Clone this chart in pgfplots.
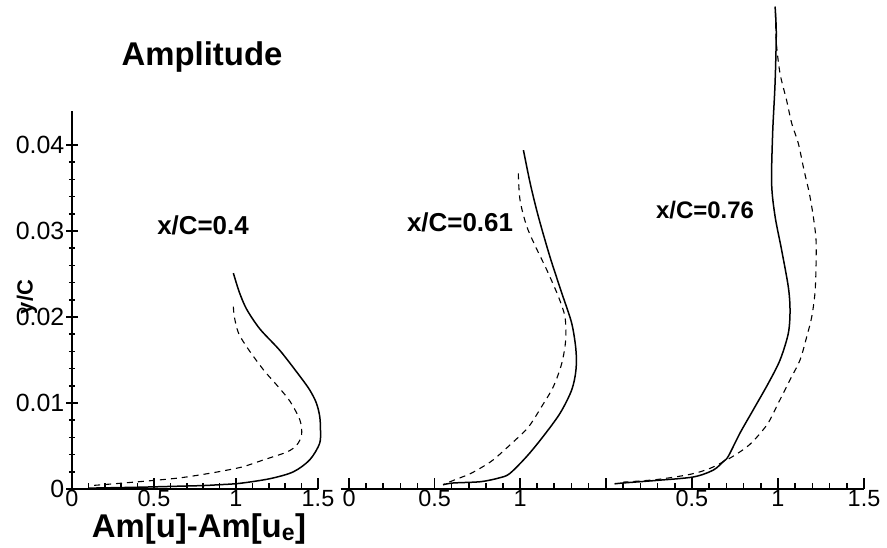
\documentclass[border=0pt]{standalone}
\usepackage{fontspec}
\setmainfont{Liberation Sans}
\usepackage{pgfplots}
\pgfplotsset{compat=1.18}
\begin{document}
\begin{tikzpicture}
\path[use as bounding box] (0,0) rectangle (887bp,548bp);
\pgfplotsset{
  panel/.style={
    scale only axis, clip=false,
    height=378.4bp, ymin=0, ymax=0.044,
    axis x line=bottom,
    tick align=inside,
    major tick length=11bp, minor tick length=6bp,
    every tick/.style={line width=1.6bp, black},
    xtick={0,0.5,1,1.5}, minor x tick num=4,
    xticklabel style={inner sep=1bp, font=\fontsize{23.5}{27}\selectfont},
    yticklabel style={inner sep=2bp, font=\fontsize{25}{29}\selectfont},
    scaled ticks=false,
    /pgf/number format/assume math mode=true,
  },
  thickaxis/.style={
    axis line style={-, line width=2.6bp, black},
    every outer x axis line/.append style={-, line width=2.6bp},
    every outer y axis line/.append style={-, line width=2.6bp},
  },
  solidc/.style={black, line width=1.5bp, smooth},
  dashc/.style={black, line width=1.1bp, dash pattern=on 6bp off 5bp, smooth},
}
% Panel 1
\begin{axis}[panel, at={(72bp,59bp)}, anchor=south west,
  width=246bp, xmin=0, xmax=1.5,
  axis y line=left, thickaxis,
  ytick={0,0.01,0.02,0.03,0.04}, minor y tick num=4,
  yticklabels={0,0.01,0.02,0.03,0.04},
  xticklabels={0,0.5,1,1.5}]
\addplot[solidc] coordinates {
(0.984,0.0251) (1.02,0.0229) (1.065,0.0209) (1.146,0.0186) (1.268,0.0161)
(1.39,0.0131) (1.45,0.0115) (1.49,0.0100) (1.51,0.0085) (1.515,0.0070)
(1.51,0.0053) (1.45,0.0034) (1.35,0.0020) (1.207,0.0012) (1.024,0.00066)
(0.9,0.0005) (0.8,0.0004) (0.6,0.0003) (0.39,0.0002) (0.1,0.0001)};
\addplot[dashc] coordinates {
(0.984,0.0212) (0.99,0.0200) (1.016,0.0181) (1.077,0.0162) (1.17,0.0138)
(1.248,0.0121) (1.329,0.0102) (1.39,0.0080) (1.40,0.0063) (1.37,0.0051)
(1.31,0.0043) (1.17,0.0034) (1.045,0.0026) (0.92,0.0021) (0.80,0.0017)
(0.66,0.0013) (0.50,0.0010) (0.29,0.00066) (0.12,0.0004)};
\end{axis}
% Panel 2
\begin{axis}[panel, at={(340.5bp,59bp)}, anchor=south west,
  width=265bp, xmin=-0.05, xmax=1.5,
  axis y line=none, thickaxis,
  xticklabels={0,0.5,1,}]
\addplot[solidc] coordinates {
(1.02,0.0394) (1.06,0.0355) (1.107,0.0317) (1.175,0.0270) (1.244,0.0228)
(1.302,0.0193) (1.327,0.0162) (1.327,0.0138) (1.302,0.0115) (1.234,0.0088)
(1.135,0.0061) (1.04,0.0038) (0.94,0.0018) (0.88,0.0013) (0.77,0.00085)
(0.61,0.0007) (0.55,0.0005)};
\addplot[dashc] coordinates {
(0.99,0.0367) (1.00,0.0336) (1.04,0.0305) (1.10,0.0278) (1.156,0.0255)
(1.224,0.0224) (1.263,0.0200) (1.267,0.0173) (1.244,0.0146) (1.195,0.0119)
(1.127,0.0096) (1.049,0.0072) (0.951,0.0053) (0.844,0.0034) (0.766,0.0024)
(0.70,0.0017) (0.61,0.0010) (0.55,0.0005)};
\end{axis}
% Panel 3
\begin{axis}[panel, at={(600.8bp,59bp)}, anchor=south west,
  width=263.2bp, xmin=-0.03, xmax=1.5,
  axis y line=none, thickaxis,
  xticklabels={,0.5,1,1.5}]
\addplot[solidc] coordinates {
(0.983,0.0561) (0.990,0.0530) (0.983,0.0472) (0.969,0.0414) (0.963,0.0355)
(0.983,0.0317) (1.021,0.0278) (1.06,0.0235) (1.07,0.0208) (1.06,0.0181)
(1.012,0.0150) (0.944,0.0123) (0.856,0.0092) (0.779,0.0065) (0.711,0.0038)
(0.682,0.0032) (0.624,0.0022) (0.508,0.0014) (0.295,0.0010) (0.10,0.0007)
(0.05,0.0006)};
\addplot[dashc] coordinates {
(0.985,0.0555) (0.99,0.0520) (1.012,0.0483) (1.05,0.0452) (1.08,0.0425)
(1.118,0.0402) (1.151,0.0371) (1.182,0.0344) (1.205,0.0317) (1.221,0.0290)
(1.221,0.0258) (1.215,0.0228) (1.196,0.0200) (1.167,0.0177) (1.128,0.0150)
(1.07,0.0127) (1.002,0.0100) (0.937,0.0075) (0.837,0.0052) (0.73,0.0037)
(0.605,0.0024) (0.488,0.0017) (0.295,0.0011) (0.10,0.0008)};
\end{axis}
% Texts
\node[font=\bfseries\fontsize{33}{38}\selectfont] at (202bp,491bp) {Amplitude};
\node[font=\bfseries\fontsize{26}{30}\selectfont] at (203bp,323bp) {x/C=0.4};
\node[font=\bfseries\fontsize{26}{30}\selectfont] at (460bp,326bp) {x/C=0.61};
\node[font=\bfseries\fontsize{24}{28}\selectfont] at (705bp,338bp) {x/C=0.76};
\node[font=\bfseries\fontsize{22}{26}\selectfont, rotate=90] at (27bp,251bp) {y/C};
\node[font=\bfseries\fontsize{33}{38}\selectfont, anchor=base] at (199bp,11bp) {Am[u]-Am[u\textsubscript{e}]};
\end{tikzpicture}
\end{document}
